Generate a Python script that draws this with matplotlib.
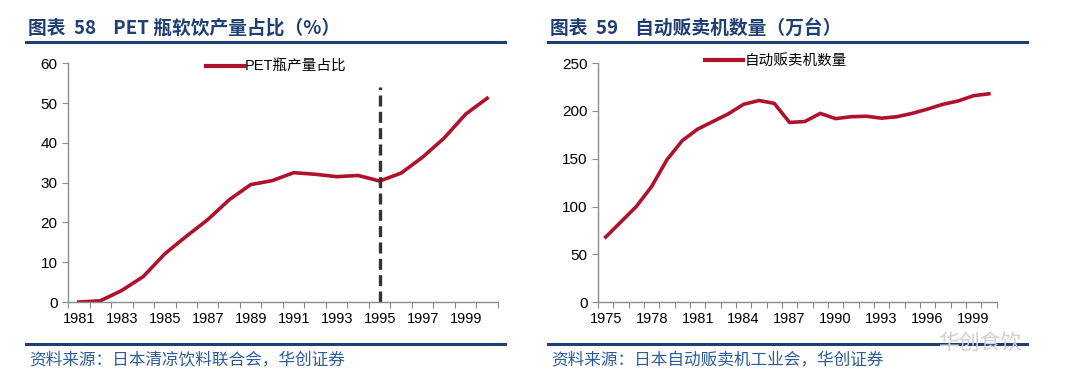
import matplotlib
matplotlib.use("Agg")
import matplotlib.pyplot as plt
from matplotlib.lines import Line2D

plt.rcParams['font.family'] = ['Noto Sans CJK SC', 'DejaVu Sans']

# PET bottle share of soft drink production (%)
pet_years = list(range(1981, 2001))
pet_share = [0.0, 0.3, 2.9, 6.4, 12.1, 16.5, 20.7, 25.7, 29.5, 30.5,
             32.5, 32.1, 31.5, 31.8, 30.4, 32.4, 36.4, 41.2, 47.2, 51.2]
pet_marker_year = 1995
pet_marker_top = 54

# vending machines (10k units)
vm_years = list(range(1975, 2001))
vm_count = [68, 84, 100, 121, 149, 169, 181, 189, 197, 207, 211, 208, 188,
            189, 197.5, 192, 194, 194.5, 192.5, 194, 197.5, 202, 207, 210.5, 216, 218]

RED = '#B0122D'
BLUE = '#1F3F73'
GRID = '#8C8C8C'
NUM_FONT = ['Liberation Sans', 'DejaVu Sans']
LEG_FONT = {'family': ['Liberation Sans', 'Noto Sans CJK SC'], 'size': 10.5}

fig = plt.figure(figsize=(10.8, 3.87), dpi=100)


def style_axis(ax, n, label_every, years, ymax, ystep):
    ax.set_xlim(-0.5, n - 0.5)
    ax.set_ylim(0, ymax)
    ax.set_yticks(range(0, ymax + 1, ystep))
    ax.set_yticklabels([str(v) for v in range(0, ymax + 1, ystep)], family=NUM_FONT)
    ax.set_xticks([i - 0.5 for i in range(n + 1)])
    ax.set_xticklabels([])
    ax.set_xticks(range(0, n, label_every), minor=True)
    ax.set_xticklabels([str(years[i]) for i in range(0, n, label_every)], minor=True,
                       family=NUM_FONT)
    ax.tick_params(axis='x', which='major', length=4, color=GRID, direction='out')
    ax.tick_params(axis='x', which='minor', length=0, labelsize=10.5, pad=7)
    ax.tick_params(axis='y', length=4, color=GRID, labelsize=11)
    for s in ('top', 'right'):
        ax.spines[s].set_visible(False)
    for s in ('left', 'bottom'):
        ax.spines[s].set_color(GRID)
        ax.spines[s].set_linewidth(1.0)


ax1 = fig.add_axes([0.063, 0.2196, 0.398, 0.617])
x1 = list(range(len(pet_years)))
ax1.plot(x1, pet_share, color=RED, lw=2.6, solid_joinstyle='round')
mx = pet_years.index(pet_marker_year)
ax1.plot([mx, mx], [0, pet_marker_top], color='#333333', lw=2.4, ls=(0, (3.3, 1.6)))
style_axis(ax1, len(pet_years), 2, pet_years, 60, 10)
ax1.legend([Line2D([], [], color=RED, lw=3)], ['PET瓶产量占比'], loc='upper left',
           bbox_to_anchor=(0.29, 1.07), frameon=False, prop=LEG_FONT, handlelength=2.6,
           handletextpad=0.1)

ax2 = fig.add_axes([0.5537, 0.2196, 0.369, 0.617])
x2 = list(range(len(vm_years)))
ax2.plot(x2, vm_count, color=RED, lw=2.6, solid_joinstyle='round')
style_axis(ax2, len(vm_years), 3, vm_years, 250, 50)
ax2.legend([Line2D([], [], color=RED, lw=3)], ['自动贩卖机数量'], loc='upper left',
           bbox_to_anchor=(0.235, 1.095), frameon=False, prop=LEG_FONT, handlelength=2.6,
           handletextpad=0.1)

# headers, rules and sources
for x0, x1r, title, src in [
        (26, 505, '图表  58    PET 瓶软饮产量占比（%）', '资料来源：日本清凉饮料联合会，华创证券'),
        (548, 1027, '图表  59    自动贩卖机数量（万台）', '资料来源：日本自动贩卖机工业会，华创证券')]:
    fig.text((x0 + 2) / 1080, 1 - 28 / 387, title, color=BLUE, fontsize=13.5,
             fontweight='bold', va='center', ha='left')
    fig.add_artist(Line2D([x0 / 1080, x1r / 1080], [1 - 42 / 387] * 2, color=BLUE, lw=2.2))
    fig.add_artist(Line2D([x0 / 1080, x1r / 1080], [1 - 344 / 387] * 2, color=BLUE, lw=2.2))
    fig.text((x0 + 3) / 1080, 1 - 361 / 387, src, color='#2E5C9A', fontsize=12,
             va='center', ha='left')

fig.text(938 / 1080, 1 - 343 / 387, '华创食饮', color='#D0D0D0', fontsize=15,
         va='center', ha='left')

fig.savefig('out.png', dpi=100)
